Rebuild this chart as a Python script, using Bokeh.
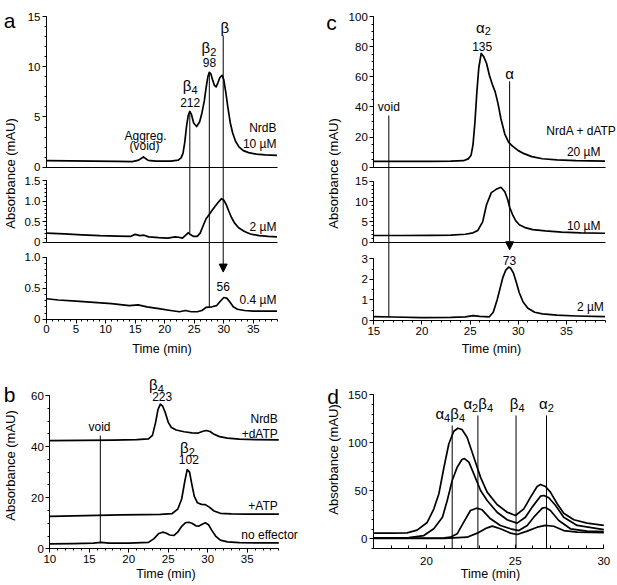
from bokeh.plotting import figure
from bokeh.models import (Range1d, LinearAxis, Label, Arrow, NormalHead, FixedTicker,
                          CustomJSTickFormatter)
from bokeh.embed import file_html
from bokeh.resources import INLINE

# ---------------- data ----------------
# panel a : NrdB at three concentrations
a_top_t = [0, 4, 8, 12, 14.5, 15.6, 16.4, 17.2, 18.5, 21, 22.3, 22.8, 23.1, 23.4, 23.7, 24.0, 24.25,
           24.55, 24.9, 25.4, 25.9, 26.3, 26.7, 27.0, 27.3, 27.55, 27.8, 28.1, 28.4, 28.7, 29.0, 29.35,
           29.7, 30.0, 30.35, 30.7, 31.1, 31.5, 32.0, 32.6, 33.3, 34.2, 35.5, 37.0, 39.0]
a_top_v = [0.66, 0.63, 0.6, 0.57, 0.56, 0.7, 1.02, 0.68, 0.6, 0.6, 0.7, 0.95, 1.4, 2.5, 4.1, 5.2, 5.55,
           5.2, 4.4, 4.05, 4.5, 5.4, 6.6, 7.9, 9.0, 9.45, 9.3, 8.7, 8.15, 8.0, 8.4, 8.95,
           9.15, 8.7, 7.4, 5.9, 4.4, 3.4, 2.55, 2.0, 1.65, 1.45, 1.3, 1.22, 1.17]
a_mid_t = [0, 3, 6, 9, 12, 14.2, 15.0, 15.8, 16.5, 17.3, 19, 20.5, 21.8, 22.4, 23.0, 23.6, 24.0, 24.4,
           24.9, 25.5, 26.0, 26.5, 27.0, 27.5, 28.0, 28.5, 29.0, 29.6, 30.0, 30.4, 30.8, 31.3, 31.8,
           32.5, 33.5, 34.5, 36.0, 37.5, 39.0]
a_mid_v = [0.22, 0.2, 0.18, 0.16, 0.15, 0.14, 0.19, 0.16, 0.17, 0.13, 0.11, 0.1, 0.13, 0.12, 0.1, 0.18,
           0.23, 0.18, 0.14, 0.14, 0.22, 0.4, 0.57, 0.67, 0.77, 0.87, 0.96, 1.06, 1.02, 0.92, 0.77, 0.6,
           0.47, 0.35, 0.26, 0.2, 0.16, 0.14, 0.13]
a_bot_t = [0, 2, 5, 8, 11, 14, 15.5, 17, 19, 21, 22.5, 23.5, 24.5, 25.5, 26.3, 27.0, 28.0, 28.8, 29.4,
           30.0, 30.5, 31.0, 31.6, 32.3, 33.5, 35, 37, 39]
a_bot_v = [0.33, 0.31, 0.29, 0.27, 0.25, 0.22, 0.23, 0.2, 0.17, 0.14, 0.12, 0.14, 0.12, 0.12, 0.14, 0.19,
           0.2, 0.22, 0.29, 0.35, 0.34, 0.28, 0.2, 0.16, 0.14, 0.13, 0.13, 0.13]

# panel b : NrdB with effectors
b_datp_t = [10, 14, 18, 21, 22.5, 23.0, 23.4, 23.7, 24.0, 24.3, 24.6, 25.0, 25.4, 26.0, 27.0, 28.0,
            28.8, 29.4, 29.8, 30.3, 30.8, 31.5, 32.5, 34, 36, 39]
b_datp_v = [42.3, 42.4, 42.5, 42.7, 43.0, 44.4, 49.5, 54.5, 56.6, 55.8, 53.5, 49.5, 47.5, 46.5, 45.8,
            45.4, 45.3, 46.0, 46.3, 45.9, 44.8, 43.9, 43.3, 42.9, 42.7, 42.6]
b_atp_t = [10, 13, 16, 19, 22, 24, 25.5, 26.2, 26.7, 27.1, 27.4, 27.7, 28.0, 28.3, 28.7, 29.2, 29.7,
           30.2, 30.8, 31.6, 33, 35, 39]
b_atp_v = [12.7, 12.9, 13.1, 13.3, 13.4, 13.5, 13.8, 15.5, 19.5, 26.5, 31.0, 30.0, 25.0, 20.5, 18.0,
           17.4, 17.3, 16.3, 14.8, 13.9, 13.7, 13.6, 13.6]
b_none_t = [10, 13, 15.5, 16.5, 17.5, 20, 22.5, 23.2, 23.8, 24.3, 24.7, 25.2, 25.7, 26.2, 26.7, 27.2,
            27.6, 28.0, 28.5, 28.9, 29.3, 29.7, 30.1, 30.5, 31.0, 31.6, 32.5, 34, 36, 39]
b_none_v = [1.9, 2.0, 2.2, 2.5, 2.2, 2.2, 2.5, 4.0, 6.0, 6.5, 6.2, 5.4, 5.2, 6.5, 8.8, 10.2, 10.4, 10.0,
            9.0, 8.9, 9.6, 10.2, 9.4, 7.3, 5.0, 3.4, 2.7, 2.4, 2.3, 2.3]

# panel c : NrdA + dATP
c_top_t = [15, 18, 21, 23, 24.3, 24.8, 25.1, 25.3, 25.5, 25.7, 25.9, 26.15, 26.4, 26.7, 27.0, 27.3,
           27.6, 27.9, 28.2, 28.6, 29.0, 29.4, 30.0, 30.6, 31.4, 32.5, 34, 36, 39]
c_top_v = [3.8, 3.8, 3.9, 4.0, 4.3, 5.5, 8, 15, 30, 50, 66, 75.5, 73.5, 69, 61, 55, 50, 42, 32, 22,
           16.5, 14, 11, 9, 7, 5.6, 4.8, 4.3, 4.0]
c_mid_t = [15, 18, 21, 23, 24.5, 25.3, 25.8, 26.3, 26.7, 27.2, 27.7, 28.2, 28.6, 28.9, 29.1, 29.4, 29.7,
           30.1, 30.7, 31.5, 32.8, 34.5, 36.5, 39]
c_mid_v = [1.65, 1.65, 1.7, 1.75, 1.95, 2.3, 2.9, 5.0, 9.2, 12.2, 13.0, 13.5, 12.4, 10.5, 8.6, 6.8, 5.4,
           4.3, 3.6, 3.1, 2.8, 2.5, 2.3, 2.2]
c_bot_t = [15, 17, 20, 23, 24.5, 25.3, 26.0, 27.0, 27.4, 27.8, 28.1, 28.4, 28.7, 29.0, 29.2, 29.5, 29.8,
           30.1, 30.5, 31.0, 31.7, 32.5, 34, 36, 39]
c_bot_v = [0.19, 0.17, 0.14, 0.15, 0.18, 0.24, 0.2, 0.18, 0.4, 1.0, 1.55, 2.1, 2.45, 2.6, 2.55, 2.3,
           1.85, 1.35, 0.9, 0.6, 0.4, 0.32, 0.26, 0.22, 0.19]

# panel d : NrdA + NrdB mixtures (four traces)
d1_t = [17.0, 18.0, 18.9, 19.47, 20.04, 20.41, 20.7, 20.98, 21.26, 21.54, 21.77, 22.0, 22.29, 22.67,
        23.05, 23.42, 23.98, 24.55, 25.02, 25.49, 25.87, 26.24, 26.43, 26.71, 26.99, 27.37, 27.74,
        28.31, 29.06, 30.0]
d1_v = [5.9, 5.9, 6.2, 9.0, 17, 31, 47, 74, 99, 112, 115.2, 113.9, 105.8, 85, 64, 48.6, 35.7, 27.7,
        24.3, 31.2, 43.4, 54.5, 56.6, 54.5, 48.6, 36.5, 26.7, 19.8, 16.3, 13.9]
d2_t = [17.0, 19.0, 19.85, 20.41, 20.9, 21.17, 21.45, 21.73, 22.0, 22.14, 22.39, 22.67, 23.05, 23.42,
        23.98, 24.55, 25.11, 25.58, 25.96, 26.43, 26.62, 26.9, 27.28, 27.74, 28.5, 30.0]
d2_v = [1.0, 1.3, 3.4, 10.4, 22.5, 39.9, 60.7, 74.6, 82.6, 83.6, 79.8, 67.7, 50.3, 39.9, 27.7, 19.8,
        16.3, 22.5, 33, 44.4, 45.1, 42.7, 34.7, 22.5, 13.9, 9.5]
d3_t = [17.0, 21.0, 21.35, 21.73, 22.1, 22.48, 22.82, 23.14, 23.61, 24.17, 24.74, 25.21, 25.68, 26.05,
        26.53, 26.71, 26.99, 27.46, 28.12, 29.06, 30.0]
d3_v = [0.6, 1.0, 1.7, 5.2, 17.3, 29.5, 31.9, 30.2, 20.8, 13.9, 10.4, 8.6, 13.9, 22.5, 31.9, 32.6,
        29.5, 19.1, 10.4, 8.0, 7.5]
d4_t = [17.0, 21.0, 22.29, 22.86, 23.42, 23.71, 24.17, 24.74, 25.11, 25.68, 26.24, 26.71, 27.18,
        27.74, 28.5, 30.0]
d4_v = [0.3, 0.5, 1.7, 5.9, 11.4, 13.2, 10.4, 5.9, 4.5, 8.0, 12.1, 14.0, 13.1, 8.6, 7.0, 6.3]

# marker lines in panel d (elution positions) and their tops
d_marks = [21.45, 22.9, 25.05, 26.77]
d_mark_tops = [118, 128.5, 128.5, 128.5]

# tick labels
a_xticks = [0, 5, 10, 15, 20, 25, 30, 35]
b_xticks = [10, 15, 20, 25, 30, 35]
c_xticks = [15, 20, 25, 30, 35]
d_xticks = [20, 25, 30]
a1_yticks = [0, 5, 10, 15]
a2_yticks = [0, 0.5, 1.0, 1.5]
a3_yticks = [0, 0.5, 1.0]
b_yticks = [0, 20, 40, 60]
c1_yticks = [0, 20, 40, 60, 80, 100]
c2_yticks = [0, 5, 10, 15]
c3_yticks = [0, 1, 2, 3]
d_yticks = [0, 50, 100, 150]

# ---------------- layout ----------------
W, H, OFF = 617, 585, 0
FONT = "Liberation Sans"

# data value -> reference pixel anchors
xr_spec = {"xa": (0, 39, 46.0, 276.5), "xb": (10, 39, 49.3, 278.3),
           "xc": (15, 39, 373.3, 604.5), "xd": (17, 30, 372.8, 603.3)}
yr_spec = {"ya1": (0, 15, 166.7, 16.0), "ya2": (0, 1.5, 241.7, 180.0), "ya3": (0, 1.0, 318.7, 256.7),
           "yb": (0, 60, 548.3, 395.0),
           "yc1": (0, 100, 166.7, 16.0), "yc2": (0, 15, 241.7, 180.7), "yc3": (0, 3, 320.0, 258.3),
           "yd": (0, 150, 538.3, 394.3)}

xmap, ymap, ex, ey = {}, {}, {}, {}
for k, (v0, v1, X0, X1) in xr_spec.items():
    s = (v1 - v0) / (X1 - X0)
    st = v0 - (X0 - OFF) * s
    xmap[k] = (st, s)
    ex[k] = Range1d(st, st + W * s)
for k, (v0, v1, Y0, Y1) in yr_spec.items():
    b0, b1 = H - (Y0 - OFF), H - (Y1 - OFF)
    s = (v1 - v0) / (b1 - b0)
    st = v0 - b0 * s
    ymap[k] = (st, s)
    ey[k] = Range1d(st, st + H * s)


def PX(k, v):
    st, s = xmap[k]
    return (v - st) / s


def PY(k, v):
    st, s = ymap[k]
    return H - (v - st) / s


p = figure(width=W, height=H, x_range=Range1d(0, W), y_range=Range1d(H, 0),
           output_backend="svg", toolbar_location=None, title=None, min_border=0,
           x_axis_type=None, y_axis_type=None)
p.extra_x_ranges = ex
p.extra_y_ranges = ey
p.outline_line_color = None
p.background_fill_color = "white"
p.border_fill_color = "white"


def style(ax, inward=False, standoff=2):
    ax.axis_line_color = "black"
    ax.axis_line_width = 1
    ax.major_tick_line_color = "black"
    ax.minor_tick_line_color = "black"
    if inward:
        ax.major_tick_in, ax.major_tick_out = 4, 0
        ax.minor_tick_in, ax.minor_tick_out = 3, 0
    else:
        ax.major_tick_in, ax.major_tick_out = 0, 4
        ax.minor_tick_in, ax.minor_tick_out = 0, 2
    ax.major_label_text_font = FONT
    ax.major_label_text_font_size = "11.5px"
    ax.major_label_text_color = "black"
    ax.major_label_standoff = standoff


dec = CustomJSTickFormatter(code="return tick == 0 ? '0' : tick.toFixed(1);")


def yaxis(xk, yk, lo, hi, ticks, step, fmt=None):
    n = int(round((hi - lo) / step))
    minors = [round(lo + i * step, 6) for i in range(n + 1)]
    ax = LinearAxis(x_range_name=xk, y_range_name=yk, fixed_location=xr_spec[xk][0],
                    bounds=(lo, hi), ticker=FixedTicker(ticks=ticks, minor_ticks=minors))
    if fmt is not None:
        ax.formatter = fmt
    style(ax)
    p.add_layout(ax, "left")


def xaxis(xk, yk, yloc, ticks, step, plain=False, inward=False, standoff=2):
    lo, hi = xr_spec[xk][0], xr_spec[xk][1]
    if plain:
        tk = FixedTicker(ticks=[], minor_ticks=[])
    else:
        n = int(round((hi - lo) / step))
        tk = FixedTicker(ticks=ticks, minor_ticks=[lo + i * step for i in range(n + 1)])
    ax = LinearAxis(x_range_name=xk, y_range_name=yk, fixed_location=yloc, bounds=(lo, hi), ticker=tk)
    style(ax, inward=inward, standoff=standoff)
    p.add_layout(ax, "below")


# panel a axes
yaxis("xa", "ya1", 0, 15, a1_yticks, 1)
yaxis("xa", "ya2", 0, 1.5, a2_yticks, 0.1, dec)
yaxis("xa", "ya3", 0, 1.0, a3_yticks, 0.1, dec)
xaxis("xa", "ya1", 0, [], 1, plain=True)
xaxis("xa", "ya2", 0, [], 1, plain=True)
xaxis("xa", "ya3", 0, a_xticks, 1)
# panel b axes
yaxis("xb", "yb", 0, 60, b_yticks, 5)
xaxis("xb", "yb", 0, b_xticks, 1)
# panel c axes
yaxis("xc", "yc1", 0, 100, c1_yticks, 5)
yaxis("xc", "yc2", 0, 15, c2_yticks, 1)
yaxis("xc", "yc3", 0, 3, c3_yticks, 0.5)
xaxis("xc", "yc1", 0, [], 1, plain=True)
xaxis("xc", "yc2", 0, [], 1, plain=True)
xaxis("xc", "yc3", 0, c_xticks, 1)
# panel d axes
yaxis("xd", "yd", -10, 150, d_yticks, 10)
xaxis("xd", "yd", -10, d_xticks, 1, inward=True, standoff=9)

# curves
curves = [("xa", "ya1", a_top_t, a_top_v), ("xa", "ya2", a_mid_t, a_mid_v), ("xa", "ya3", a_bot_t, a_bot_v),
          ("xb", "yb", b_datp_t, b_datp_v), ("xb", "yb", b_atp_t, b_atp_v), ("xb", "yb", b_none_t, b_none_v),
          ("xc", "yc1", c_top_t, c_top_v), ("xc", "yc2", c_mid_t, c_mid_v), ("xc", "yc3", c_bot_t, c_bot_v),
          ("xd", "yd", d1_t, d1_v), ("xd", "yd", d2_t, d2_v), ("xd", "yd", d3_t, d3_v), ("xd", "yd", d4_t, d4_v)]
for xk, yk, t, v in curves:
    p.line(t, v, x_range_name=xk, y_range_name=yk, line_color="black", line_width=1.7,
           line_join="round")

# marker lines (x in data, ends on named sub-plot values)
segs = [("xa", 24.25, ("ya1", 5.55), ("ya2", 0.23)),
        ("xa", 27.55, ("ya1", 9.45), ("ya3", 0.2)),
        ("xb", 16.4, ("yb", 44.3), ("yb", 2.3)),
        ("xc", 16.56, ("yc1", 34.3), ("yc3", 0.16))]
for xi, top in zip(d_marks, d_mark_tops):
    segs.append(("xd", xi, ("yd", top), ("yd", -10)))
sx0 = [PX(s[0], s[1]) for s in segs]
sy0 = [PY(*s[2]) for s in segs]
sy1 = [PY(*s[3]) for s in segs]
p.segment(x0=sx0, y0=sy0, x1=sx0, y1=sy1, line_color="black", line_width=1)

arrows = [("xa", 29.9, ("ya1", 13.1), ("ya3", 0.76)),
          ("xc", 29.1, ("yc1", 57.0), ("yc3", 3.44))]
for xk, xv, a0, a1 in arrows:
    X = PX(xk, xv)
    p.add_layout(Arrow(end=NormalHead(size=8, fill_color="black", line_color="black", line_width=1),
                       x_start=X, y_start=PY(*a0), x_end=X, y_end=PY(*a1),
                       line_color="black", line_width=1))


# texts (positions in reference pixels)
def txt(X, Y, s, size=12, align="center", angle=0):
    p.add_layout(Label(x=X - OFF, y=Y - OFF, text=s, text_font=FONT, text_font_size=f"{size}px",
                       text_align=align, text_baseline="middle", angle=angle, angle_units="deg",
                       text_color="black"))


def greek(Xc, Yc, pieces, gsize=15, ssize=11):
    widths = [(0.58 * gsize if not sub else 0.556 * ssize) for s, sub in pieces]
    x = Xc - sum(widths) / 2
    for (s, sub), w in zip(pieces, widths):
        if sub:
            txt(x, Yc + 4, s, size=ssize, align="left")
        else:
            txt(x, Yc, s, size=gsize, align="left")
        x += w


B, A = "β", "α"
# panel a
txt(9, 20, "a", size=21)
txt(10, 173, "Absorbance (mAU)", size=13, angle=90)
txt(161.5, 348.3, "Time (min)", size=12.5)
greek(189.7, 85, [(B, 0), ("4", 1)])
txt(189.7, 101.7, "212")
greek(208.5, 47, [(B, 0), ("2", 1)])
txt(209, 62.3, "98")
greek(224.3, 26.7, [(B, 0)])
txt(222.7, 286, "56")
txt(145, 135, "Aggreg.")
txt(144, 145.7, "(void)")
txt(276, 127.7, "NrdB", align="right")
txt(276, 143.3, "10 µM", align="right")
txt(276, 226.7, "2 µM", align="right")
txt(276, 299.3, "0.4 µM", align="right")
# panel b
txt(9, 394, "b", size=21)
txt(10, 465, "Absorbance (mAU)", size=13, angle=90)
txt(165.5, 573, "Time (min)", size=12.5)
greek(156, 384, [(B, 0), ("4", 1)])
txt(161.7, 395.7, "223")
greek(187, 447.3, [(B, 0), ("2", 1)])
txt(188.3, 459.3, "102")
txt(99, 426, "void")
txt(277.3, 418.3, "NrdB", align="right")
txt(277.3, 433.3, "+dATP", align="right")
txt(277.3, 505, "+ATP", align="right")
txt(297.3, 534, "no effector", align="right")
# panel c
txt(331, 22, "c", size=21)
txt(333.3, 173, "Absorbance (mAU)", size=13, angle=90)
txt(491, 348.3, "Time (min)", size=12.5)
greek(483, 26.5, [(A, 0), ("2", 1)])
txt(481.7, 45.7, "135")
greek(509, 73.3, [(A, 0)])
txt(509, 260, "73")
txt(388.3, 106.7, "void")
txt(616, 130.7, "NrdA + dATP", align="right")
txt(600, 151.7, "20 µM", align="right")
txt(600, 225, "10 µM", align="right")
txt(603.3, 306, "2 µM", align="right")
# panel d
txt(332.7, 396, "d", size=21)
txt(333.3, 459, "Absorbance (mAU)", size=13, angle=90)
txt(490, 573, "Time (min)", size=12.5)
greek(449.7, 413.3, [(A, 0), ("4", 1), (B, 0), ("4", 1)])
greek(477.7, 403.3, [(A, 0), ("2", 1), (B, 0), ("4", 1)])
greek(516.7, 403.3, [(B, 0), ("4", 1)])
greek(546, 403.3, [(A, 0), ("2", 1)])

open("out.html", "w").write(file_html(p, INLINE))
